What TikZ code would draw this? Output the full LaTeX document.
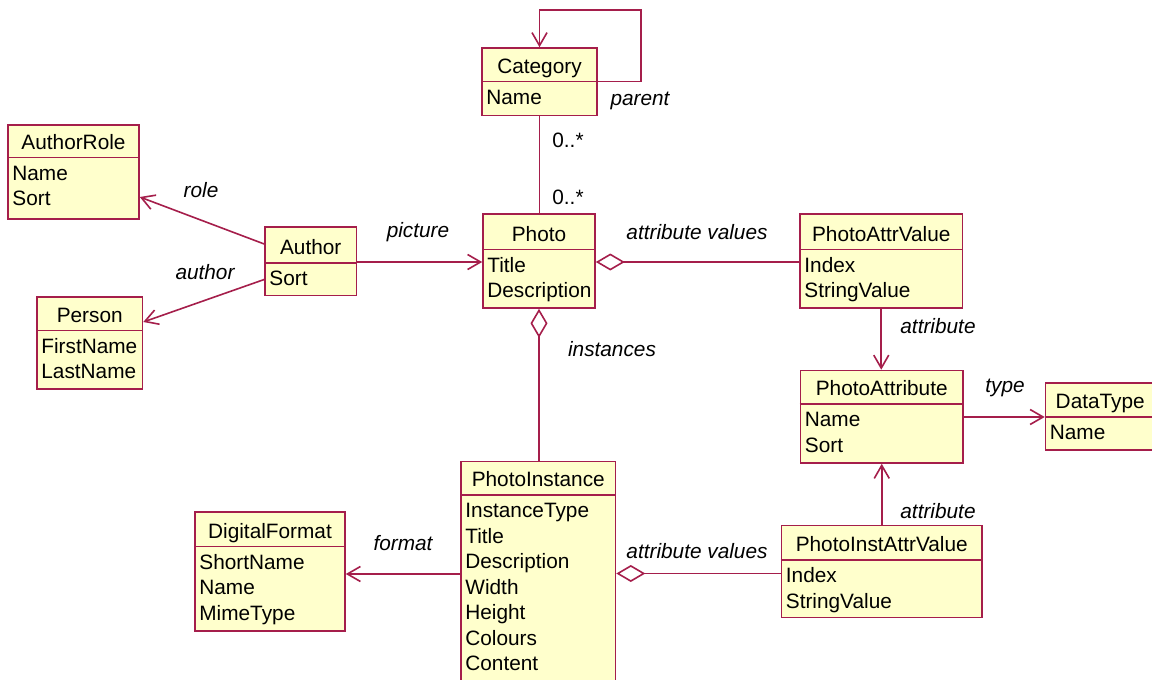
\documentclass[tikz,border=0pt]{standalone}
\usepackage{fontspec}
\setmainfont{Liberation Sans}
\usetikzlibrary{arrows.meta,fit}
\definecolor{umlred}{RGB}{165,30,75}
\definecolor{umlfill}{RGB}{255,255,204}
\newcommand\umlfont{\fontsize{10.4}{12}\selectfont}
\newcommand\umlclass[7]{%
  \node[cls, fit={(#2,#3) (#4,#5)}] (#1) {};
  \draw[clsline] (#1.west |- 0,#6) -- (#1.east |- 0,#6);
  \node[hdr] (#1-t) at ({(#2+#4)/2}, #6-8.5) {#7};
}
\newcommand\umlattrs[4]{%
  \foreach \a [count=\i from 0] in {#4} {\node[attr] (#1-a\i) at (#2+4, #3+22.5+25.5*\i) {\a};}
}
\tikzset{
  cls/.style={draw=umlred, fill=umlfill, line width=0.8pt, inner sep=0pt, rectangle},
  clsline/.style={draw=umlred, line width=0.8pt},
  hdr/.style={anchor=base, inner sep=0pt, font=\umlfont},
  attr/.style={anchor=base west, inner sep=0pt, font=\umlfont},
  lbl/.style={inner sep=0pt, font=\umlfont\itshape},
  mult/.style={inner sep=0pt, font=\umlfont},
  conn/.style={draw=umlred, line width=0.8pt},
  nav/.style={conn, -{Straight Barb[length=6.5pt,width=7.5pt]}},
  agg/.style={conn, {Diamond[open,length=14.5pt,width=8.5pt,fill=white]}-},
}
\begin{document}
\begin{tikzpicture}[x=0.5pt,y=-0.5pt]
\useasboundingbox (0,0) rectangle (1152,680);
\clip (0,0) rectangle (1152,680);
\fill[white] (0,0) rectangle (1152,680);

% classes
\umlclass{category}{482}{48}{597}{115.5}{81.5}{Category}
\umlattrs{category}{482}{81.5}{Name}
\umlclass{authorrole}{8}{125}{139}{219}{157.5}{AuthorRole}
\umlattrs{authorrole}{8}{157.5}{Name,Sort}
\umlclass{person}{37}{297}{142.5}{389}{330.5}{Person}
\umlattrs{person}{37}{330.5}{FirstName,LastName}
\umlclass{author}{265}{227}{356.5}{295.5}{263}{Author}
\umlattrs{author}{265}{263}{Sort}
\umlclass{photo}{483}{214}{595}{308}{249.5}{Photo}
\umlattrs{photo}{483}{249.5}{Title,Description}
\umlclass{pav}{800}{214}{962.5}{308}{249.5}{PhotoAttrValue}
\umlattrs{pav}{800}{249.5}{Index,StringValue}
\umlclass{pa}{800.5}{370.5}{963}{463}{404}{PhotoAttribute}
\umlattrs{pa}{800.5}{404}{Name,Sort}
\umlclass{dt}{1045.5}{383}{1155}{450}{417}{DataType}
\umlattrs{dt}{1045.5}{417}{Name}
\umlclass{pi}{461}{461.5}{615.5}{720}{495}{PhotoInstance}
\umlattrs{pi}{461}{495}{InstanceType,Title,Description,Width,Height,Colours,Content}
\umlclass{df}{195}{512}{345}{631}{546.5}{DigitalFormat}
\umlattrs{df}{195}{546.5}{ShortName,Name,MimeType}
\umlclass{piav}{781.5}{525.5}{982}{617.5}{560}{PhotoInstAttrValue}
\umlattrs{piav}{781.5}{560}{Index,StringValue}

% connectors
\coordinate (loopc) at (641,10);
\draw[nav] (category.east |- 0,81.5) -| (loopc) -| (category.north);
\draw[conn] (category.south) -- (category.south |- photo.north);
\draw[nav] (author.west |- 0,244) -- (authorrole.east |- 0,197);
\draw[nav] (author.west |- 0,279.5) -- (person.east |- 0,322);
\draw[nav] (author.east |- 0,262) -- (photo.west |- 0,262);
\draw[agg] (photo.east |- 0,262) -- (pav.west |- 0,262);
\draw[agg] (photo.south) -- (photo.south |- pi.north);
\draw[nav] (pav.south) -- (pav.south |- pa.north);
\draw[nav] (pa.east |- 0,417) -- (dt.west |- 0,417);
\draw[nav] (pi.west |- 0,574) -- (df.east |- 0,574);
\draw[agg] (pi.east |- 0,573.5) -- (piav.west |- 0,573.5);
\draw[nav] (piav.north) -- (piav.north |- pa.south);

% labels
\node[lbl] (l-parent) at (640,101) {parent};
\node[mult] (m-1) at (568,140) {0..*};
\node[mult] (m-2) at (568,197) {0..*};
\node[lbl] (l-role) at (201,190) {role};
\node[lbl] (l-author) at (205,272) {author};
\node[lbl] (l-picture) at (418,232) {picture};
\node[lbl] (l-av1) at (697,232) {attribute values};
\node[lbl] (l-inst) at (612,349) {instances};
\node[lbl] (l-attr1) at (938,326) {attribute};
\node[lbl] (l-type) at (1005,388) {type};
\node[lbl] (l-format) at (403,543) {format};
\node[lbl] (l-av2) at (697,551) {attribute values};
\node[lbl] (l-attr2) at (938,511) {attribute};
\end{tikzpicture}
\end{document}
